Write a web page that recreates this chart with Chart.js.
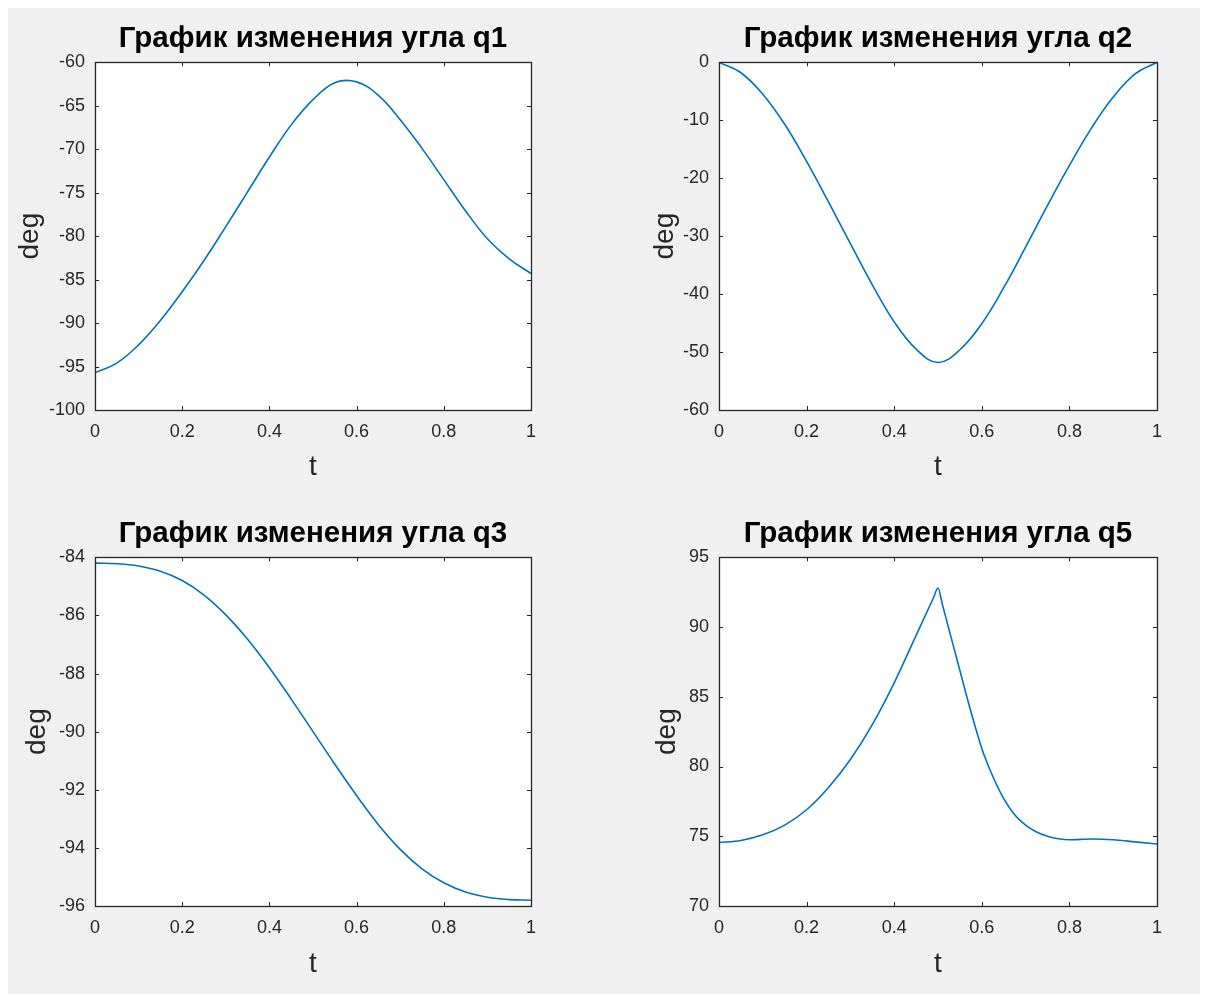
<!DOCTYPE html>
<html><head><meta charset="utf-8">
<script src="https://cdn.jsdelivr.net/npm/chart.js@4.4.1/dist/chart.umd.min.js"></script>
<style>
html,body{margin:0;padding:0;background:#fff;width:1207px;height:994px;overflow:hidden;}
#bg{position:absolute;left:8px;top:8px;width:1192px;height:986px;background:#f0f0f0;}
canvas{position:absolute;}
</style></head><body>
<div id="bg"></div>
<canvas id="c1" width="603" height="497" style="left:0;top:0"></canvas>
<canvas id="c2" width="583" height="497" style="left:624px;top:0"></canvas>
<canvas id="c3" width="603" height="497" style="left:0;top:497px"></canvas>
<canvas id="c4" width="583" height="497" style="left:624px;top:497px"></canvas>
<script>
// ---- data ----
const xTicks = [0, 0.2, 0.4, 0.6, 0.8, 1];

const tQ1 = [0,0.05,0.1,0.15,0.2,0.25,0.3,0.35,0.4,0.45,0.5,0.55,0.6,0.65,0.7,0.75,0.8,0.85,0.9,0.95,1];
const q1  = [-95.7,-94.6,-92.5,-89.7,-86.4,-82.8,-78.9,-74.9,-70.9,-67.2,-64.3,-62.35,-62.25,-63.8,-66.6,-69.9,-73.5,-77.1,-80.3,-82.6,-84.3];
const q1Ticks = [-100,-95,-90,-85,-80,-75,-70,-65,-60];

const tQ2 = [0,0.05,0.1,0.15,0.2,0.25,0.3,0.35,0.4,0.45,0.5,0.55,0.6,0.65,0.7,0.75,0.8,0.85,0.9,0.95,1];
const q2  = [0,-1.8,-5.5,-10.7,-17.1,-24.1,-31.3,-38.4,-44.8,-49.5,-51.8,-49.6,-45.1,-38.9,-31.9,-24.7,-17.8,-11.4,-6.0,-2.0,0];
const q2Ticks = [-60,-50,-40,-30,-20,-10,0];

const tQ3 = [0,0.05,0.1,0.15,0.2,0.25,0.3,0.35,0.4,0.45,0.5,0.55,0.6,0.65,0.7,0.75,0.8,0.85,0.9,0.95,1];
const q3  = [-84.2,-84.22,-84.3,-84.48,-84.8,-85.3,-85.98,-86.82,-87.8,-88.88,-90.0,-91.12,-92.2,-93.2,-94.05,-94.72,-95.2,-95.52,-95.7,-95.78,-95.8];
const q3Ticks = [-96,-94,-92,-90,-88,-86,-84];

const tQ5 = [0,0.05,0.1,0.15,0.2,0.25,0.3,0.35,0.4,0.45,0.49,0.5,0.51,0.525,0.55,0.575,0.6,0.625,0.65,0.675,0.7,0.725,0.75,0.775,0.8,0.85,0.9,0.95,1];
const q5  = [74.55,74.7,75.1,75.8,76.9,78.5,80.5,83.0,86.0,89.4,92.12,92.8,91.62,89.84,86.88,83.95,81.3,79.3,77.7,76.55,75.8,75.3,75.0,74.82,74.75,74.8,74.75,74.6,74.45];
const q5Ticks = [70,75,80,85,90,95];

const titles = ['График изменения угла q1','График изменения угла q2','График изменения угла q3','График изменения угла q5'];

// ---- drawing helpers ----
const FONT = '"Liberation Sans", Arial, Helvetica, sans-serif';
const AXIS = '#262626';

const boxPlugin = {
  id: 'matlabBox',
  beforeDraw(chart) {
    const {ctx, chartArea: a} = chart;
    ctx.save();
    ctx.fillStyle = '#ffffff';
    ctx.fillRect(a.left, a.top, a.right - a.left, a.bottom - a.top);
    ctx.restore();
  },
  afterDatasetsDraw(chart) {
    const {ctx, chartArea: a, scales} = chart;
    const L = 4;
    ctx.save();
    ctx.strokeStyle = AXIS;
    ctx.lineWidth = 1;
    ctx.beginPath();
    scales.x.ticks.forEach(t => {
      const px = Math.round(scales.x.getPixelForValue(t.value)) + 0.5;
      ctx.moveTo(px, a.bottom); ctx.lineTo(px, a.bottom - L);
      ctx.moveTo(px, a.top); ctx.lineTo(px, a.top + L);
    });
    scales.y.ticks.forEach(t => {
      const py = Math.round(scales.y.getPixelForValue(t.value)) + 0.5;
      ctx.moveTo(a.left, py); ctx.lineTo(a.left + L, py);
      ctx.moveTo(a.right, py); ctx.lineTo(a.right - L, py);
    });
    ctx.stroke();
    ctx.lineWidth = 1.3;
    ctx.strokeRect(Math.round(a.left) + 0.5, Math.round(a.top) + 0.5,
                   Math.round(a.right - a.left), Math.round(a.bottom - a.top));
    ctx.restore();
  }
};

function makeChart(id, title, tArr, yArr, yTicks, opts) {
  const pts = tArr.map((t, i) => ({x: t, y: yArr[i]}));
  return new Chart(document.getElementById(id), {
    type: 'line',
    data: { datasets: [{ data: pts, borderColor: '#0072BD', borderWidth: 1.6,
      pointRadius: 0, fill: false,
      cubicInterpolationMode: opts.mono ? 'monotone' : 'default',
      tension: opts.mono ? 0 : 0.4 }] },
    plugins: [boxPlugin],
    options: {
      responsive: false, animation: false, devicePixelRatio: 1,
      layout: { padding: { left: 0, right: opts.right, top: 0, bottom: 0 } },
      elements: { line: { capBezierPoints: true } },
      plugins: {
        legend: { display: false }, tooltip: { enabled: false },
        title: { display: true, text: title, color: '#000', fullSize: false,
          font: { family: FONT, size: 29.5, weight: 'bold', lineHeight: 1.2 },
          padding: { top: opts.titleTop, bottom: opts.titleBottom } }
      },
      scales: {
        x: { type: 'linear', min: 0, max: 1,
          afterFit: s => { s.height = opts.xh; },
          afterBuildTicks: s => { s.ticks = xTicks.map(v => ({value: v})); },
          grid: { display: false, drawTicks: false }, border: { display: false },
          ticks: { color: AXIS, padding: 11, maxRotation: 0, autoSkip: false,
            callback: v => String(v),
            font: { family: FONT, size: 18 } },
          title: { display: true, text: 't', color: AXIS,
            font: { family: FONT, size: 28 }, padding: { top: 0, bottom: 13 } } },
        y: { type: 'linear', min: yTicks[0], max: yTicks[yTicks.length - 1],
          afterFit: s => { s.width = 95; },
          afterBuildTicks: s => { s.ticks = yTicks.map(v => ({value: v})); },
          grid: { display: false, drawTicks: false }, border: { display: false },
          ticks: { color: AXIS, padding: 10, autoSkip: false,
            callback: v => String(v),
            font: { family: FONT, size: 18 } },
          title: { display: true, text: 'deg', color: AXIS,
            font: { family: FONT, size: 28 }, padding: { top: opts.yTitle - 16.8, bottom: 0 } } }
      }
    }
  });
}

makeChart('c1', titles[0], tQ1, q1, q1Ticks, {right: 72, titleTop: 21.5, titleBottom: 5.4, xh: 87, yTitle: 30});
makeChart('c2', titles[1], tQ2, q2, q2Ticks, {right: 50, titleTop: 21.5, titleBottom: 5.4, xh: 87, yTitle: 41});
makeChart('c3', titles[2], tQ3, q3, q3Ticks, {right: 72, titleTop: 19.5, titleBottom: 5.4, xh: 88, yTitle: 37});
makeChart('c4', titles[3], tQ5, q5, q5Ticks, {right: 50, titleTop: 19.5, titleBottom: 5.4, xh: 88, yTitle: 43, mono: true});
</script>
</body></html>
